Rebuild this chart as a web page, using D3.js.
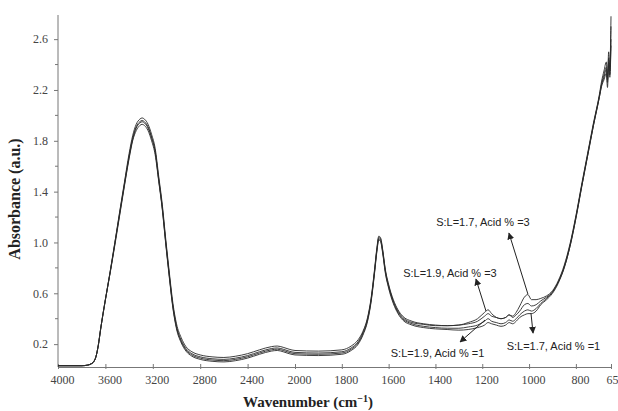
<!DOCTYPE html>
<html><head><meta charset="utf-8">
<script src="https://cdn.jsdelivr.net/npm/d3@7"></script>
<style>html,body{margin:0;padding:0;background:#fff}svg{display:block}</style>
</head><body>
<svg id="c" width="618" height="411"></svg>
<script>
// Wavenumber grid (cm-1)
const wavenumbers = [
 4000,3900,3800,3750,3720,3700,3680,3660,3640,3600,
 3560,3520,3480,3440,3400,3370,3340,3310,3290,3270,
 3240,3210,3180,3150,3120,3090,3060,3030,3000,2960,
 2920,2870,2800,2700,2600,2500,2400,2300,2200,2150,
 2100,2050,2000,1900,1800,1760,1730,1710,1690,1675,
 1660,1650,1642,1635,1625,1615,1600,1580,1560,1540,
 1500,1450,1400,1350,1300,1260,1220,1190,1175,1160,
 1140,1120,1100,1085,1070,1055,1040,1020,1005,990,
 970,950,925,900,875,850,825,800,775,750,
 725,700,690,680,670,665,660,655,650];

const absSL17A3 = [
 0.03,0.03,0.03,0.035,0.045,0.06,0.10,0.19,0.32,0.55,
 0.77,1.00,1.24,1.47,1.70,1.84,1.93,1.97,1.98,1.97,
 1.93,1.85,1.74,1.52,1.30,1.02,0.76,0.52,0.36,0.25,
 0.18,0.14,0.115,0.10,0.095,0.105,0.125,0.155,0.18,0.185,
 0.175,0.16,0.15,0.145,0.155,0.185,0.235,0.30,0.41,0.56,
 0.79,0.96,1.05,1.04,0.94,0.80,0.67,0.55,0.47,0.42,
 0.38,0.36,0.35,0.345,0.35,0.36,0.38,0.42,0.44,0.42,
 0.41,0.40,0.41,0.43,0.42,0.45,0.50,0.57,0.59,0.55,
 0.55,0.56,0.58,0.62,0.70,0.82,0.99,1.21,1.46,1.70,
 1.94,2.16,2.27,2.35,2.42,2.28,2.50,2.38,2.78];

const absSL19A3 = [
 0.03,0.03,0.03,0.035,0.045,0.06,0.10,0.19,0.32,0.55,
 0.77,1.00,1.23,1.46,1.68,1.82,1.91,1.95,1.96,1.95,
 1.91,1.83,1.72,1.50,1.28,1.00,0.74,0.50,0.34,0.23,
 0.165,0.125,0.10,0.085,0.08,0.09,0.11,0.14,0.165,0.17,
 0.16,0.145,0.135,0.13,0.14,0.17,0.22,0.29,0.40,0.55,
 0.78,0.95,1.04,1.03,0.93,0.79,0.66,0.54,0.46,0.41,
 0.37,0.355,0.345,0.345,0.35,0.37,0.40,0.45,0.47,0.44,
 0.41,0.40,0.41,0.43,0.41,0.43,0.46,0.51,0.52,0.50,
 0.51,0.54,0.57,0.61,0.69,0.81,0.98,1.20,1.45,1.69,
 1.93,2.15,2.25,2.32,2.38,2.30,2.45,2.35,2.70];

const absSL19A1 = [
 0.03,0.03,0.03,0.035,0.045,0.06,0.10,0.19,0.32,0.55,
 0.76,0.99,1.22,1.45,1.67,1.81,1.90,1.94,1.95,1.94,
 1.90,1.82,1.71,1.49,1.27,0.99,0.73,0.49,0.33,0.22,
 0.155,0.115,0.09,0.075,0.07,0.08,0.10,0.13,0.155,0.16,
 0.15,0.135,0.125,0.12,0.13,0.16,0.21,0.28,0.39,0.54,
 0.77,0.94,1.03,1.02,0.92,0.78,0.65,0.53,0.45,0.40,
 0.36,0.34,0.33,0.325,0.325,0.335,0.35,0.38,0.40,0.38,
 0.37,0.36,0.37,0.39,0.38,0.40,0.43,0.46,0.47,0.46,
 0.48,0.52,0.56,0.61,0.69,0.80,0.97,1.19,1.44,1.68,
 1.92,2.14,2.24,2.30,2.36,2.26,2.42,2.32,2.60];

const absSL17A1 = [
 0.03,0.03,0.03,0.035,0.045,0.06,0.10,0.19,0.32,0.55,
 0.76,0.98,1.21,1.44,1.66,1.80,1.88,1.92,1.93,1.92,
 1.88,1.80,1.69,1.48,1.26,0.98,0.72,0.48,0.32,0.21,
 0.145,0.105,0.08,0.065,0.06,0.07,0.09,0.12,0.145,0.15,
 0.14,0.125,0.115,0.11,0.12,0.15,0.20,0.27,0.38,0.53,
 0.76,0.93,1.02,1.01,0.91,0.77,0.64,0.52,0.44,0.39,
 0.35,0.33,0.32,0.315,0.31,0.315,0.33,0.35,0.37,0.36,
 0.35,0.34,0.35,0.37,0.36,0.38,0.41,0.43,0.44,0.44,
 0.46,0.51,0.55,0.60,0.68,0.80,0.97,1.19,1.44,1.68,
 1.92,2.14,2.23,2.28,2.33,2.22,2.40,2.30,2.55];

const xTicks = [4000,3600,3200,2800,2400,2000,1800,1600,1400,1200,1000,800,650];
const yMajorTicks = [0.2,0.6,1.0,1.4,1.8,2.2,2.6];
const yMinorTicks = [0.4,0.8,1.2,1.6,2.0,2.4];

// annotations in data units: label position, arrow tail (on curve), arrow head
const annLabels = ["S:L=1.7, Acid % =3","S:L=1.9, Acid % =3","S:L=1.9, Acid % =1","S:L=1.7, Acid % =1"];
const annText = [[1197,1.129],[1338,0.728],[1391,0.099],[896,0.154]];
const annTail = [[1005,0.594],[1184,0.46],[1188,0.39],[992,0.445]];
const annHead = [[1086,1.074],[1227,0.712],[1295,0.217],[983,0.287]];

const svg = d3.select("#c");
const x = d3.scaleLinear().domain([4000,2000,650]).range([58,295,611]);
const y = d3.scaleLinear().domain([0.02,2.79]).range([367,15]);

const axisColor = "#777";
const serif = "'Liberation Serif','Times New Roman',serif";
const sans = "'Liberation Sans',Arial,sans-serif";

// X axis
const gx = svg.append("g").attr("transform","translate(0,"+y(0.02)+")");
gx.call(d3.axisBottom(x).tickValues(xTicks).tickSize(0).tickFormat(d3.format("d")));
gx.select(".domain").attr("stroke",axisColor).attr("stroke-width",1);
gx.selectAll(".tick line").remove();
gx.selectAll(".tick").append("line").attr("y1",-3).attr("y2",2).attr("stroke",axisColor);
gx.selectAll(".tick text").attr("font-family",serif).attr("font-size",12).attr("fill","#444").attr("dy","1.15em").attr("dx",4);

// Y axis
const gy = svg.append("g").attr("transform","translate("+x(4000)+",0)");
gy.call(d3.axisLeft(y).tickValues(yMajorTicks).tickSize(4).tickPadding(6).tickFormat(d3.format(".1f")));
gy.select(".domain").attr("stroke",axisColor).attr("d","M0,"+y(2.79)+"V"+y(0.02));
gy.selectAll(".tick line").attr("stroke",axisColor);
gy.selectAll(".tick text").attr("font-family",serif).attr("font-size",12).attr("fill","#444");
gy.selectAll(".minor").data(yMinorTicks).enter().append("line").attr("class","minor")
  .attr("x1",-3).attr("x2",0).attr("y1",d=>y(d)).attr("y2",d=>y(d)).attr("stroke",axisColor);

// Axis titles
svg.append("text").attr("transform","translate(20,"+((y(2.79)+y(0.02))/2+8)+") rotate(-90)")
  .attr("text-anchor","middle").attr("font-family",serif).attr("font-weight","bold").attr("font-size",16).attr("fill","#222")
  .text("Absorbance (a.u.)");
const xt = svg.append("text").attr("x",308).attr("y",407).attr("text-anchor","middle")
  .attr("font-family",serif).attr("font-weight","bold").attr("font-size",15).attr("fill","#222");
xt.append("tspan").text("Wavenumber (cm");
xt.append("tspan").attr("dy",-5).attr("font-size",10).text("\u22121");
xt.append("tspan").attr("dy",5).text(")");

// Spectra
const allSeries = [absSL17A3, absSL19A3, absSL19A1, absSL17A1];
const line = d3.line().x((d,i)=>x(wavenumbers[i])).y(d=>y(d)).curve(d3.curveMonotoneX);
svg.append("g").selectAll("path").data(allSeries).enter().append("path")
  .attr("d",line).attr("fill","none").attr("stroke","#2a2a2a").attr("stroke-width",0.9);

// Arrow marker
svg.append("defs").append("marker").attr("id","ah").attr("viewBox","0 0 10 10").attr("refX",9).attr("refY",5)
  .attr("markerWidth",7).attr("markerHeight",7).attr("orient","auto-start-reverse").attr("markerUnits","userSpaceOnUse")
  .append("path").attr("d","M0,0L10,5L0,10Z").attr("fill","#222");

const ann = svg.append("g");
annLabels.forEach((t,i)=>{
  ann.append("line").attr("x1",x(annTail[i][0])).attr("y1",y(annTail[i][1]))
    .attr("x2",x(annHead[i][0])).attr("y2",y(annHead[i][1]))
    .attr("stroke","#222").attr("stroke-width",1).attr("marker-end","url(#ah)");
  ann.append("text").attr("x",x(annText[i][0])).attr("y",y(annText[i][1])).attr("text-anchor","middle")
    .attr("font-family",sans).attr("font-size",11).attr("fill","#222").text(t);
});
</script>
</body></html>
